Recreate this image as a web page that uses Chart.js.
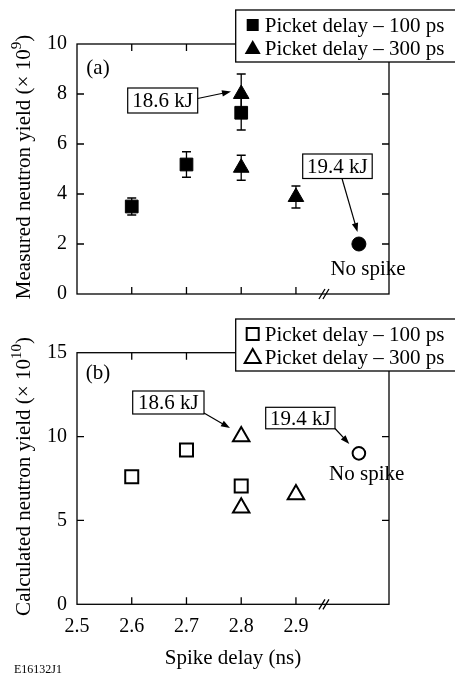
<!DOCTYPE html>
<html>
<head>
<meta charset="utf-8">
<script src="https://cdn.jsdelivr.net/npm/chart.js@4.4.0/dist/chart.umd.min.js"></script>
<style>
    body { margin: 0; background: #fff; width: 455px; height: 679px; overflow: hidden; position: relative; }
    canvas { position: absolute; left: 0; }
    #measuredChart { top: 0; }
    #calculatedChart { top: 316px; }
</style>
</head>
<body>
<canvas id="measuredChart" width="455" height="316"></canvas>
<canvas id="calculatedChart" width="455" height="363"></canvas>
<script>
const xTicks = [2.5, 2.6, 2.7, 2.8, 2.9];

// (a) measured neutron yield, x 10^9
const measured100X = [2.6, 2.7, 2.8];
const measured100Y = [3.5, 5.18, 7.25];
const measured100Err = [0.34, 0.51, 0.69];
const measured300X = [2.8, 2.8, 2.9];
const measured300Y = [8.0, 5.05, 3.88];
const measured300Err = [0.8, 0.5, 0.44];
const measuredNoSpikeX = [3.015];
const measuredNoSpikeY = [2.0];

// (b) calculated neutron yield, x 10^10
const calc100X = [2.6, 2.7, 2.8];
const calc100Y = [7.6, 9.2, 7.05];
const calc300X = [2.8, 2.8, 2.9];
const calc300Y = [10.0, 5.75, 6.55];
const calcNoSpikeX = [3.015];
const calcNoSpikeY = [9.0];

const serif = '"Liberation Serif", "Times New Roman", serif';
Chart.defaults.font.family = serif;
Chart.defaults.font.size = 21;
Chart.defaults.color = '#000';

function toPoints(xs, ys) {
    return xs.map((x, i) => ({ x: x, y: ys[i] }));
}

function makeScales(yMax, yStep, showX) {
    return {
        x: {
            type: 'linear',
            min: 2.5,
            max: 3.07,
            afterBuildTicks: s => { s.ticks = xTicks.map(v => ({ value: v })); },
            grid: { display: false, drawTicks: false },
            border: { display: false },
            ticks: { display: showX, padding: 10, font: { size: 20 }, maxRotation: 0, autoSkip: false,
                     callback: v => v.toFixed(1) },
            title: { display: showX, text: 'Spike delay (ns)', padding: { top: 0, bottom: 8 } },
            afterFit: s => { s.height = showX ? 74.7 : 20; }
        },
        y: {
            min: 0,
            max: yMax,
            ticks: { stepSize: yStep, padding: 10, font: { size: 20 } },
            grid: { display: false, drawTicks: false },
            border: { display: false },
            afterFit: s => { s.width = 77; }
        }
    };
}

function drawArrow(ctx, x1, y1, x2, y2) {
    const ang = Math.atan2(y2 - y1, x2 - x1);
    const len = 9, half = 3.2;
    ctx.beginPath();
    ctx.moveTo(x1, y1);
    ctx.lineTo(x2 - Math.cos(ang) * len * 0.8, y2 - Math.sin(ang) * len * 0.8);
    ctx.stroke();
    ctx.beginPath();
    ctx.moveTo(x2, y2);
    ctx.lineTo(x2 - Math.cos(ang) * len - Math.sin(ang) * half, y2 - Math.sin(ang) * len + Math.cos(ang) * half);
    ctx.lineTo(x2 - Math.cos(ang) * len + Math.sin(ang) * half, y2 - Math.sin(ang) * len - Math.cos(ang) * half);
    ctx.closePath();
    ctx.fill();
}

function drawMarker(ctx, style, filled, x, y) {
    ctx.beginPath();
    if (style === 'rect') {
        ctx.rect(x - 6, y - 6, 12, 12);
    } else {
        ctx.moveTo(x, y - 8);
        ctx.lineTo(x + 8, y + 6);
        ctx.lineTo(x - 8, y + 6);
        ctx.closePath();
    }
    if (filled) ctx.fill(); else { ctx.lineWidth = 2; ctx.stroke(); }
}

// rotated y title with a raised exponent
function drawYTitle(ctx, cx, cy, main, sup) {
    ctx.save();
    ctx.translate(cx, cy);
    ctx.rotate(-Math.PI / 2);
    ctx.textBaseline = 'middle';
    ctx.textAlign = 'left';
    ctx.font = '21px ' + serif;
    const w1 = ctx.measureText(main).width;
    const w3 = ctx.measureText(')').width;
    ctx.font = '15px ' + serif;
    const w2 = ctx.measureText(sup).width;
    let x = -(w1 + w2 + w3) / 2;
    ctx.font = '21px ' + serif;
    ctx.fillText(main, x, 0);
    x += w1;
    ctx.font = '15px ' + serif;
    ctx.fillText(sup, x, -7);
    x += w2;
    ctx.font = '21px ' + serif;
    ctx.fillText(')', x, 0);
    ctx.restore();
}

const errorBarPlugin = {
    id: 'errorBars',
    beforeDatasetsDraw(chart) {
        const ctx = chart.ctx;
        const yScale = chart.scales.y;
        ctx.save();
        ctx.strokeStyle = '#000';
        ctx.lineWidth = 1.3;
        chart.data.datasets.forEach((ds, i) => {
            if (!ds.errorBars) return;
            chart.getDatasetMeta(i).data.forEach((pt, j) => {
                const v = ds.data[j].y, e = ds.errorBars[j];
                const yTop = yScale.getPixelForValue(v + e);
                const yBot = yScale.getPixelForValue(v - e);
                ctx.beginPath();
                ctx.moveTo(pt.x, yTop); ctx.lineTo(pt.x, yBot);
                ctx.moveTo(pt.x - 4.5, yTop); ctx.lineTo(pt.x + 4.5, yTop);
                ctx.moveTo(pt.x - 4.5, yBot); ctx.lineTo(pt.x + 4.5, yBot);
                ctx.stroke();
            });
        });
        ctx.restore();
    }
};

const framePlugin = {
    id: 'frame',
    afterDatasetsDraw(chart, args, opts) {
        const ctx = chart.ctx;
        const a = chart.chartArea;
        const xs = chart.scales.x, ys = chart.scales.y;
        ctx.save();
        ctx.strokeStyle = '#000';
        ctx.fillStyle = '#000';
        ctx.lineWidth = 1.3;
        ctx.strokeRect(a.left, a.top, a.right - a.left, a.bottom - a.top);

        // inward ticks on all four sides
        ctx.beginPath();
        xTicks.slice(1).forEach(v => {
            const px = xs.getPixelForValue(v);
            ctx.moveTo(px, a.bottom); ctx.lineTo(px, a.bottom - 7);
            ctx.moveTo(px, a.top); ctx.lineTo(px, a.top + 7);
        });
        ys.ticks.forEach(t => {
            if (t.value <= ys.min || t.value >= ys.max) return;
            const py = ys.getPixelForValue(t.value);
            ctx.moveTo(a.left, py); ctx.lineTo(a.left + 7, py);
            ctx.moveTo(a.right, py); ctx.lineTo(a.right - 7, py);
        });
        ctx.stroke();

        // axis break marks
        const bx = xs.getPixelForValue(opts.breakAt);
        ctx.beginPath();
        ctx.moveTo(bx - 6, a.bottom + 5); ctx.lineTo(bx, a.bottom - 5);
        ctx.moveTo(bx - 2, a.bottom + 5); ctx.lineTo(bx + 4, a.bottom - 5);
        ctx.stroke();

        drawYTitle(ctx, 24, (a.top + a.bottom) / 2 - 2, opts.yTitle, opts.yExp);

        // panel label
        ctx.font = '21px ' + serif;
        ctx.textAlign = 'center';
        ctx.textBaseline = 'middle';
        ctx.fillText(opts.panel, a.left + 21, a.top + opts.panelDy);

        // energy annotations
        opts.boxes.forEach(b => {
            ctx.fillStyle = '#fff';
            ctx.fillRect(b.x, b.y, b.w, b.h);
            ctx.lineWidth = 1.2;
            ctx.strokeRect(b.x, b.y, b.w, b.h);
            ctx.fillStyle = '#000';
            ctx.fillText(b.text, b.x + b.w / 2, b.y + b.h / 2 + 1);
            drawArrow(ctx, b.ax, b.ay, b.tx, b.ty);
        });
        opts.labels.forEach(l => ctx.fillText(l.text, l.x, l.y));

        // legend
        const lg = opts.legend;
        ctx.fillStyle = '#fff';
        ctx.fillRect(lg.x, lg.y, 300, lg.h);
        ctx.lineWidth = 1.3;
        ctx.strokeRect(lg.x, lg.y, 300, lg.h);
        ctx.fillStyle = '#000';
        ctx.textAlign = 'left';
        lg.items.forEach((it, i) => {
            const ry = lg.y + 15 + i * 23;
            drawMarker(ctx, it.style, lg.filled, lg.x + 17, ry);
            ctx.fillText(it.text, lg.x + 29, ry + 1);
        });
        if (opts.footnote) {
            ctx.font = '12px ' + serif;
            ctx.fillText(opts.footnote, 14, chart.height - 9);
        }
        ctx.restore();
    }
};

const measuredChart = new Chart(document.getElementById('measuredChart').getContext('2d'), {
    type: 'scatter',
    data: {
        datasets: [
            { label: 'Picket delay \u2013 100 ps', data: toPoints(measured100X, measured100Y), errorBars: measured100Err,
              pointStyle: 'rect', pointRadius: 9, backgroundColor: '#000', borderColor: '#000', borderWidth: 1 },
            { label: 'Picket delay \u2013 300 ps', data: toPoints(measured300X, measured300Y), errorBars: measured300Err,
              pointStyle: 'triangle', pointRadius: 9, backgroundColor: '#000', borderColor: '#000', borderWidth: 1 },
            { label: 'No spike', data: toPoints(measuredNoSpikeX, measuredNoSpikeY),
              pointStyle: 'circle', pointRadius: 7, backgroundColor: '#000', borderColor: '#000', borderWidth: 1 }
        ]
    },
    options: {
        responsive: false,
        animation: false,
        layout: { padding: { left: 0, right: 66, top: 44, bottom: 0 } },
        scales: makeScales(10, 2, false),
        plugins: {
            legend: { display: false },
            tooltip: { enabled: false },
            frame: {
                breakAt: 2.953,
                yTitle: 'Measured neutron yield (\u00d7 10', yExp: '9',
                panel: '(a)', panelDy: 24,
                boxes: [
                    { text: '18.6 kJ', x: 127.7, y: 88, w: 70, h: 25, ax: 197.7, ay: 98.5, tx: 231, ty: 91.5 },
                    { text: '19.4 kJ', x: 302.7, y: 154, w: 69.5, h: 24.5, ax: 342, ay: 178.5, tx: 357.5, ty: 232 }
                ],
                labels: [{ text: 'No spike', x: 368, y: 269 }],
                legend: { x: 235.7, y: 10, h: 52, filled: true, items: [
                    { style: 'rect', text: 'Picket delay \u2013 100 ps' },
                    { style: 'triangle', text: 'Picket delay \u2013 300 ps' }
                ] }
            }
        }
    },
    plugins: [errorBarPlugin, framePlugin]
});

const calculatedChart = new Chart(document.getElementById('calculatedChart').getContext('2d'), {
    type: 'scatter',
    data: {
        datasets: [
            { label: 'Picket delay \u2013 100 ps', data: toPoints(calc100X, calc100Y),
              pointStyle: 'rect', pointRadius: 9.2, backgroundColor: 'rgba(0,0,0,0)', borderColor: '#000', borderWidth: 2 },
            { label: 'Picket delay \u2013 300 ps', data: toPoints(calc300X, calc300Y),
              pointStyle: 'triangle', pointRadius: 9.5, backgroundColor: 'rgba(0,0,0,0)', borderColor: '#000', borderWidth: 2 },
            { label: 'No spike', data: toPoints(calcNoSpikeX, calcNoSpikeY),
              pointStyle: 'circle', pointRadius: 6.3, backgroundColor: 'rgba(0,0,0,0)', borderColor: '#000', borderWidth: 2 }
        ]
    },
    options: {
        responsive: false,
        animation: false,
        layout: { padding: { left: 0, right: 66, top: 36.7, bottom: 0 } },
        scales: makeScales(15, 5, true),
        plugins: {
            legend: { display: false },
            tooltip: { enabled: false },
            frame: {
                breakAt: 2.953,
                yTitle: 'Calculated neutron yield (\u00d7 10', yExp: '10',
                panel: '(b)', panelDy: 21,
                boxes: [
                    { text: '18.6 kJ', x: 132.7, y: 75, w: 71.3, h: 23, ax: 204, ay: 97, tx: 230, ty: 112 },
                    { text: '19.4 kJ', x: 265.7, y: 91.3, w: 69.3, h: 21.5, ax: 335, ay: 112.5, tx: 349.3, ty: 128 }
                ],
                labels: [{ text: 'No spike', x: 366.7, y: 158 }],
                legend: { x: 235.7, y: 3, h: 52, filled: false, items: [
                    { style: 'rect', text: 'Picket delay \u2013 100 ps' },
                    { style: 'triangle', text: 'Picket delay \u2013 300 ps' }
                ] },
                footnote: 'E16132J1'
            }
        }
    },
    plugins: [errorBarPlugin, framePlugin]
});
</script>
</body>
</html>
